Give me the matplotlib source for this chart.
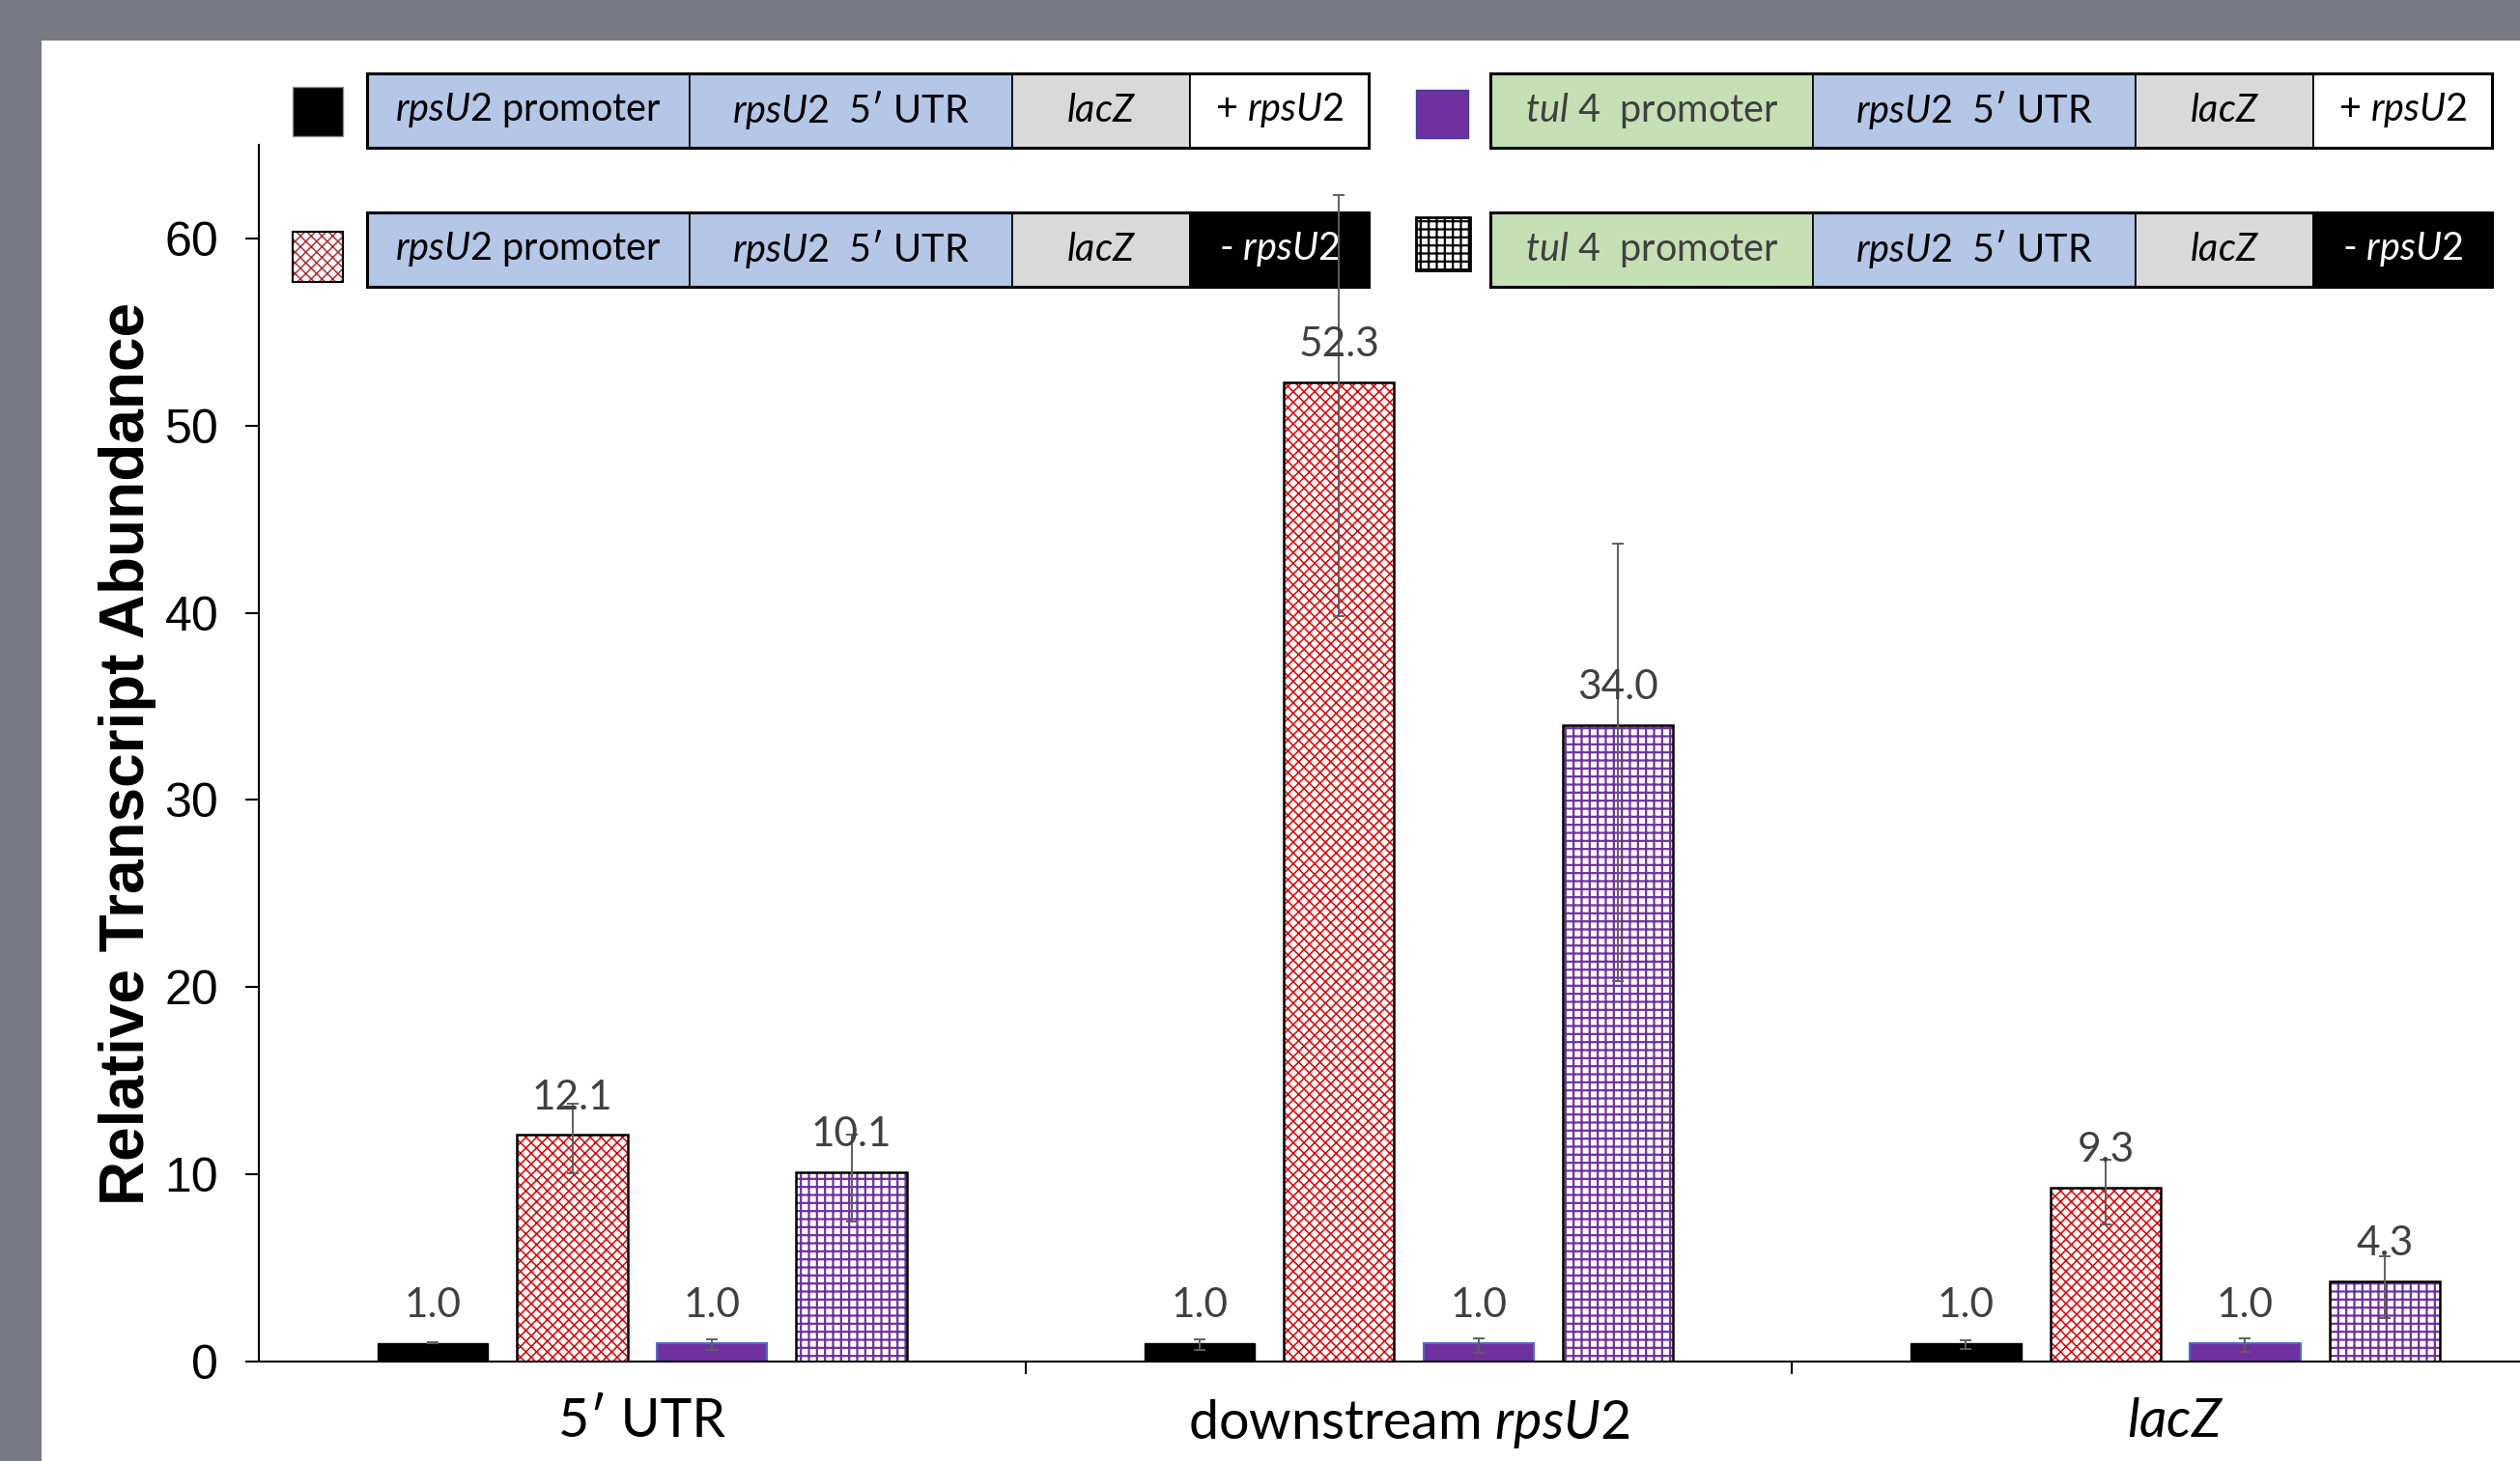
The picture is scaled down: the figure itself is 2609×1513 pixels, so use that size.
import numpy as np
import matplotlib.pyplot as plt
from matplotlib.patches import Rectangle

plt.rcParams['mathtext.fontset'] = 'custom'
plt.rcParams['mathtext.rm'] = 'Lato'
plt.rcParams['mathtext.it'] = 'Lato:italic'
plt.rcParams['hatch.linewidth'] = 1.5

# data
categories = ['5′ UTR', r'downstream $\mathit{rpsU2}$', r'$\mathit{lacZ}$']
rps_plus = [1.0, 1.0, 1.0]
rps_minus = [12.1, 52.3, 9.3]
tul_plus = [1.0, 1.0, 1.0]
tul_minus = [10.1, 34.0, 4.3]
# error bars as [lower, upper]
rps_plus_err = [[0.03, 0.38, 0.33], [0.03, 0.18, 0.13]]
rps_minus_err = [[2.05, 12.5, 2.0], [1.66, 10.0, 1.5]]
tul_plus_err = [[0.38, 0.54, 0.48], [0.19, 0.24, 0.24]]
tul_minus_err = [[2.6, 13.7, 2.0], [2.0, 9.7, 1.3]]

# legend constructs
rps_top = [r'$\mathit{rpsU2}$ promoter', r'$\mathit{rpsU2}$  5′ UTR', r'$\mathit{lacZ}$', r'+ $\mathit{rpsU2}$']
rps_bottom = [r'$\mathit{rpsU2}$ promoter', r'$\mathit{rpsU2}$  5′ UTR', r'$\mathit{lacZ}$', r'- $\mathit{rpsU2}$']
tul_top = [r'$\mathit{tul\ 4}$  promoter', r'$\mathit{rpsU2}$  5′ UTR', r'$\mathit{lacZ}$', r'+ $\mathit{rpsU2}$']
tul_bottom = [r'$\mathit{tul\ 4}$  promoter', r'$\mathit{rpsU2}$  5′ UTR', r'$\mathit{lacZ}$', r'- $\mathit{rpsU2}$']

W, H = 2609, 1513
fig = plt.figure(figsize=(W / 100, H / 100), dpi=100, facecolor='#7a7a85')

# overlay in pixel coords for the white panel and the construct legend
ov = fig.add_axes([0, 0, 1, 1], zorder=0)
ov.set_xlim(0, W)
ov.set_ylim(H, 0)
ov.axis('off')
ov.add_patch(Rectangle((43, 42), W - 43, H - 42, facecolor='white', edgecolor='none'))

seg_w = [334, 334, 184, 185]
box_h = 77


def construct(x0, y0, texts, fills, tcolors):
    x = x0
    for t, w, fc, tc in zip(texts, seg_w, fills, tcolors):
        ov.add_patch(Rectangle((x, y0), w, box_h, facecolor=fc, edgecolor='black', lw=1.2))
        ov.text(x + w / 2, y0 + box_h / 2, t, ha='center', va='center', fontsize=28.5,
                family='Lato', color=tc)
        x += w
    ov.add_patch(Rectangle((x0, y0), sum(seg_w), box_h, facecolor='none', edgecolor='black', lw=2.2))


blue, green, grey = '#b4c7e7', '#c5e0b4', '#d9d9d9'
construct(380, 76, rps_top, [blue, blue, grey, 'white'], ['black'] * 4)
construct(380, 220, rps_bottom, [blue, blue, grey, 'black'], ['black'] * 3 + ['white'])
construct(1543, 76, tul_top, [green, blue, grey, 'white'], ['#404040', 'black', 'black', 'black'])
construct(1543, 220, tul_bottom, [green, blue, grey, 'black'], ['#404040', 'black', 'black', 'white'])

# main chart
ax = fig.add_axes([268 / W, (H - 1410) / H, (2649 - 268) / W, (1410 - 150) / H], zorder=1)
ax.patch.set_alpha(0)

x = np.arange(len(categories))
pitch, bw = 0.182, 0.144
ekw = dict(ecolor='#5f5f5f', elinewidth=1.4, capsize=4, capthick=1.4)

# thinner red crosshatch
plt.rcParams['hatch.linewidth'] = 1.1
ov.add_patch(Rectangle((303, 240), 52, 52, facecolor='white', edgecolor='#b03030', lw=0, hatch='xxx'))
ax.bar(x - 0.5 * pitch, rps_minus, bw, facecolor='white', edgecolor='#e00000', lw=0,
       hatch='xxx', zorder=2)

# thicker purple grid
plt.rcParams['hatch.linewidth'] = 1.6
ov.add_patch(Rectangle((1466, 225), 56, 55, facecolor='white', edgecolor='black', lw=0, hatch='++'))
ax.bar(x + 1.5 * pitch, tul_minus, bw, facecolor='white', edgecolor='#7030a0', lw=0,
       hatch='++', zorder=2)

# swatches
ov.add_patch(Rectangle((303, 90), 52, 51, facecolor='black', edgecolor='#888888', lw=1))
ov.add_patch(Rectangle((303, 240), 52, 52, fill=False, edgecolor='black', lw=1.5))
ov.add_patch(Rectangle((1466, 93), 54, 50, facecolor='#7030a0', edgecolor='#4040a0', lw=1))
ov.add_patch(Rectangle((1466, 225), 56, 55, fill=False, edgecolor='black', lw=2))

ax.bar(x - 1.5 * pitch, rps_plus, bw, color='black', edgecolor='black', lw=1,
       yerr=rps_plus_err, error_kw=ekw, zorder=2)
ax.bar(x - 0.5 * pitch, rps_minus, bw, fill=False, edgecolor='black', lw=1.8,
       yerr=rps_minus_err, error_kw=ekw, zorder=3)
ax.bar(x + 0.5 * pitch, tul_plus, bw, color='#7030a0', edgecolor='#4472c4', lw=1.5,
       yerr=tul_plus_err, error_kw=ekw, zorder=2)
ax.bar(x + 1.5 * pitch, tul_minus, bw, fill=False, edgecolor='black', lw=1.8,
       yerr=tul_minus_err, error_kw=ekw, zorder=3)

for off, vals in zip([-1.5, -0.5, 0.5, 1.5], [rps_plus, rps_minus, tul_plus, tul_minus]):
    for xi, v in zip(x, vals):
        ax.annotate(f'{v:.1f}', (xi + off * pitch, v), xytext=(0, 28), textcoords='offset points',
                    ha='center', va='center', fontsize=30.5, family='Lato', color='#404040', zorder=4)

ax.set_xlim(-0.5, 2.5)
ax.set_ylim(0, 65)
ax.set_yticks(range(0, 61, 10))
ax.tick_params(axis='y', direction='out', length=10, width=1.5, pad=20, labelsize=36)
for lab in ax.get_yticklabels():
    lab.set_family('Liberation Sans')

ax.set_xticks([0.5, 1.5])
ax.set_xticklabels([])
ax.tick_params(axis='x', which='major', direction='out', length=9, width=1.5)
ax.set_xticks(x, minor=True)
ax.set_xticklabels(categories, minor=True, fontsize=40, family='Lato')
ax.tick_params(axis='x', which='minor', length=0, pad=27)

for s in ['top', 'right']:
    ax.spines[s].set_visible(False)
ax.spines['left'].set_linewidth(1.5)
ax.spines['bottom'].set_linewidth(1.5)

ax.set_ylabel('Relative Transcript Abundance', fontsize=46, fontweight='bold',
              family='Liberation Sans', va='center')
ax.yaxis.set_label_coords(-0.0571, 0.5)

fig.savefig('out.png', dpi=100, facecolor=fig.get_facecolor())
